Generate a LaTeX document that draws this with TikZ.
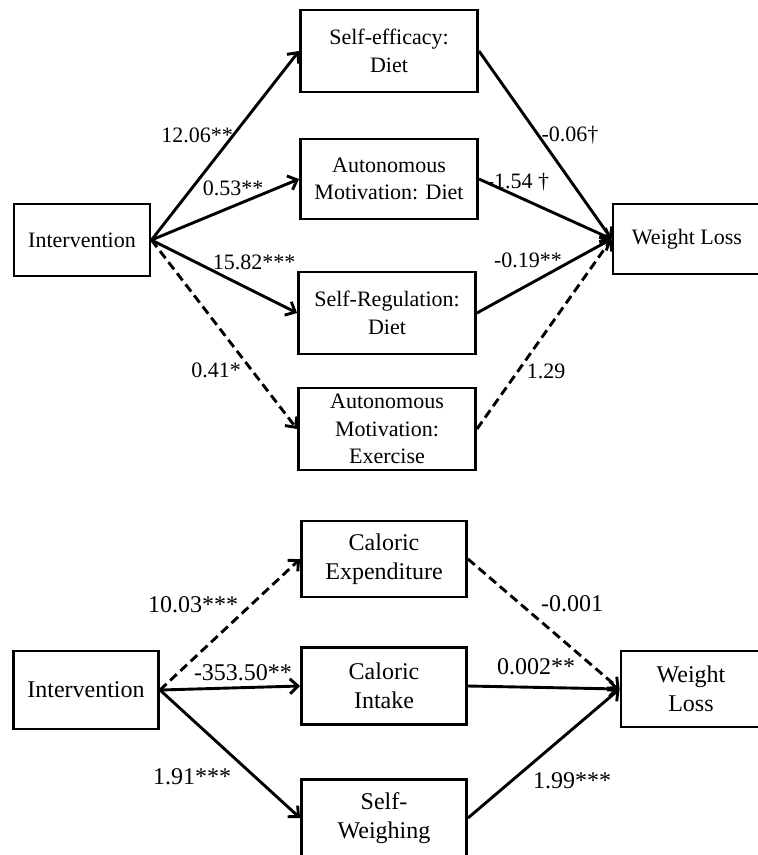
\documentclass[tikz,border=0pt]{standalone}
\usepackage{fontspec}
\setmainfont{Liberation Serif}
\usetikzlibrary{arrows.meta}

\begin{document}
\begin{tikzpicture}[x=1pt, y=-1pt]
	\tikzset{
		var/.style = {draw, line width=2.9pt, align=center, inner sep=0pt, font=\fontsize{22}{27.5}\selectfont},
		varb/.style = {var, font=\fontsize{24}{29.5}\selectfont},
		coef/.style = {inner sep=0pt, font=\fontsize{22}{27}\selectfont},
		coefb/.style = {coef, font=\fontsize{24}{29}\selectfont},
		eff/.style = {line width=2.9pt, -{Straight Barb[length=8pt,width=15pt]}},
		ns/.style = {eff, dash pattern=on 9pt off 5pt}
	}
	\useasboundingbox (0,0) rectangle (758,855);

	% upper model
	\node[var, minimum width=136pt, minimum height=72pt] (int1) at (82,240) {Intervention};
	\node[var, minimum width=177pt, minimum height=82pt] (sed) at (389,51) {Self-efficacy:\\Diet};
	\node[var, minimum width=177pt, minimum height=80pt] (amd) at (389,179) {Autonomous\\Motivation: Diet};
	\node[var, minimum width=177pt, minimum height=82pt] (srd) at (387,313) {Self-Regulation:\\Diet};
	\node[var, minimum width=177pt, minimum height=82pt] (ame) at (387,429) {Autonomous\\Motivation:\\Exercise};
	\node[var, minimum width=148pt, minimum height=70pt] (wl1) at (687,239) {Weight Loss};

	\draw[eff] (int1.east) -- (sed.west); \draw[eff] (int1.east) -- (amd.west); \draw[eff] (int1.east) -- (srd.west); \draw[ns] (int1.east) -- (ame.west);
	\draw[eff] (sed.east) -- (wl1.west); \draw[eff] (amd.east) -- (wl1.west); \draw[eff] (srd.east) -- (wl1.west); \draw[ns] (ame.east) -- (wl1.west);

	\node[coef] (a1) at (197,135) {12.06**}; \node[coef] (a2) at (233,188) {0.53**}; \node[coef] (a3) at (254,262) {15.82***}; \node[coef] (a4) at (216,370) {0.41*};
	\node[coef] (b1) at (570,135) {-0.06†}; \node[coef] (b2) at (518,182) {-1.54 †}; \node[coef] (b3) at (528,260) {-0.19**}; \node[coef] (b4) at (546,371) {1.29};

	% lower model
	\node[varb, minimum width=145pt, minimum height=78pt] (int2) at (86,690) {Intervention};
	\node[varb, minimum width=165pt, minimum height=76pt] (cex) at (384,559) {Caloric\\Expenditure};
	\node[varb, minimum width=165pt, minimum height=77pt] (cin) at (384,686) {Caloric\\Intake};
	\node[varb, minimum width=165pt, minimum height=77pt] (swg) at (384,818) {Self-\\Weighing};
	\node[varb, minimum width=140pt, minimum height=76pt] (wl2) at (691,689) {Weight\\Loss};

	\draw[ns] (int2.east) -- (cex.west); \draw[eff] (int2.east) -- (cin.west); \draw[eff] (int2.east) -- (swg.west);
	\draw[ns] (cex.east) -- (wl2.west); \draw[eff] (cin.east) -- (wl2.west); \draw[eff] (swg.east) -- (wl2.west);

	\node[coefb] (c1) at (193,605) {10.03***}; \node[coefb] (c2) at (243,673) {-353.50**}; \node[coefb] (c3) at (192,777) {1.91***};
	\node[coefb] (d1) at (572,604) {-0.001}; \node[coefb] (d2) at (536,667) {0.002**}; \node[coefb] (d3) at (572,781) {1.99***};
\end{tikzpicture}
\end{document}
